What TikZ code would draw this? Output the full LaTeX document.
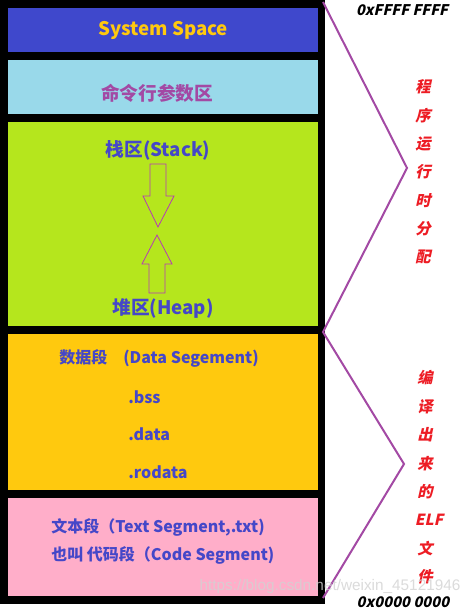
\documentclass[tikz,border=0pt]{standalone}
\usepackage{fontspec}
\setmainfont{Noto Sans CJK SC}
\newfontfamily\slfont{Noto Sans CJK SC}[FakeSlant=0.22]
\newfontfamily\wmfont{Liberation Sans}
\definecolor{sysblue}{HTML}{3F48CC}
\definecolor{lblue}{HTML}{99D9EA}
\definecolor{lime}{HTML}{B5E61D}
\definecolor{gold}{HTML}{FFC90E}
\definecolor{rose}{HTML}{FFAEC9}
\definecolor{purp}{HTML}{A349A4}
\definecolor{redtxt}{HTML}{ED1C24}
\definecolor{txtblue}{HTML}{4547C8}
\tikzset{
  lbl/.style={inner sep=0pt, font=\bfseries\fontsize{14pt}{16pt}\selectfont, text=txtblue},
  small/.style={inner sep=0pt, anchor=west, font=\bfseries\fontsize{12pt}{14pt}\selectfont, text=txtblue},
  redch/.style={inner sep=0pt, font=\slfont\bfseries\fontsize{11.5pt}{12pt}\selectfont, text=redtxt},
  hexlbl/.style={inner sep=0pt, font=\slfont\bfseries\fontsize{11pt}{12pt}\selectfont, text=black},
  blockarrow/.style={draw=purp!80!magenta, line width=0.6pt},
  bracket/.style={draw=purp, line width=1.5pt},
}
\begin{document}
\begin{tikzpicture}[x=0.75pt,y=-0.75pt]
\useasboundingbox (0,0) rectangle (475,609);
\fill[white] (0,0) rectangle (475,609);
\fill[black] (0,0) rectangle (325,604);
\fill[sysblue] (8,8) rectangle (318,52);
\fill[lblue] (8,60) rectangle (318,114);
\fill[lime] (8,122) rectangle (318,326);
\fill[gold] (8,334) rectangle (318,490);
\fill[rose] (8,498) rectangle (318,596);

\node[lbl, text=gold] (sys) at (163,30) {System Space};
\node[lbl, text=purp] (cmd) at (157,93) {命令行参数区};
\node[lbl] (stack) at (158,150) {栈区(Stack)};
\node[lbl] (heap) at (163,308) {堆区(Heap)};

\draw[blockarrow] (150,164) -- (166,164) -- (166,196) -- (174,196) -- (158,227) -- (143,196) -- (150,196) -- cycle;
\draw[blockarrow] (149,293) -- (165,293) -- (165,264) -- (172,264) -- (157,235) -- (142,264) -- (149,264) -- cycle;

\node[small] (data) at (59,358) {数据段\hspace{1em}(Data Segement)};
\node[small] (bss) at (128,397) {.bss};
\node[small] (dat) at (128,434) {.data};
\node[small] (rod) at (128,472) {.rodata};

\node[small] (txt1) at (51,527) {文本段（Text Segment,.txt)};
\node[small] (txt2) at (51,555) {也叫 代码段（Code Segment)};

\draw[bracket] (323,2) -- (407,168) -- (323,332) -- (404,464) -- (323,598);

\node[hexlbl] (top) at (402,10) {0xFFFF FFFF};
\node[hexlbl] (bot) at (403,602) {0x0000 0000};

\foreach \c [count=\i] in {程,序,运,行,时,分,配}
  \node[redch] (r\i) at (423,{87+28.3*(\i-1)}) {\c};
\foreach \c [count=\i] in {编,译,出,来,的,ELF,文,件}
  \node[redch] (e\i) at ({\i==6 ? 429 : 425},{378+28.4*(\i-1)}) {\c};

\node[inner sep=0pt, font=\wmfont\fontsize{11.5pt}{12pt}\selectfont, text=gray!35, opacity=0.8] (wm) at (330,587) {https://blog.csdn.net/weixin\_45121946};
\end{tikzpicture}
\end{document}
